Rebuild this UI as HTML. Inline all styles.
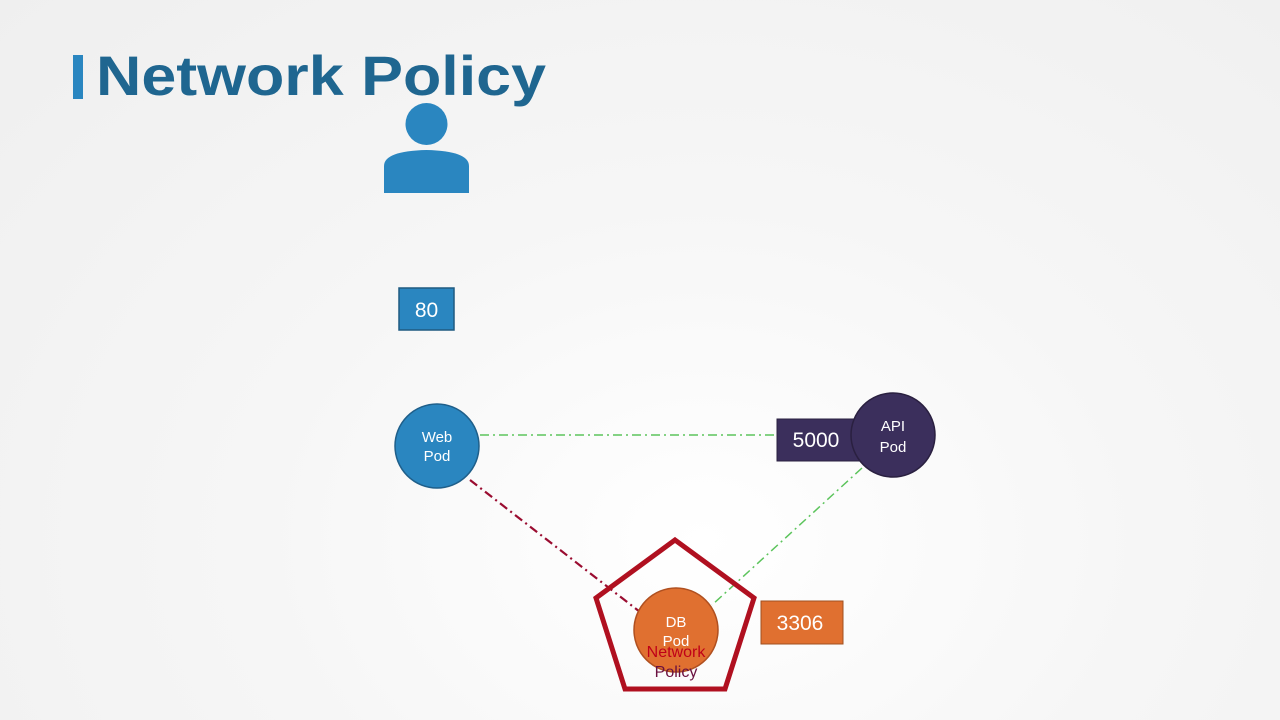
<!DOCTYPE html>
<html><head><style>
html,body{margin:0;padding:0;width:1280px;height:720px;overflow:hidden;}
body{background:radial-gradient(ellipse at 55% 75%, #ffffff 0%, #f6f6f6 45%, #efefef 100%);font-family:"Liberation Sans",sans-serif;}
</style></head><body>
<svg width="1280" height="720" xmlns="http://www.w3.org/2000/svg" style="position:absolute;left:0;top:0">
<rect x="73" y="55" width="10" height="44" fill="#2a86c0"/>
<text x="96" y="95" font-family="Liberation Sans, sans-serif" font-size="56" font-weight="bold" fill="#1f6690" textLength="450" lengthAdjust="spacingAndGlyphs">Network Policy</text>
<!-- person -->
<circle cx="426.5" cy="124" r="21" fill="#2a86c0"/>
<path d="M384 193 L384 166 Q384 151 426.5 150 Q469 151 469 166 L469 193 Z" fill="#2a86c0"/>
<!-- 80 -->
<rect x="399" y="288" width="55" height="42" fill="#2a86c0" stroke="#1f5a80" stroke-width="1.5"/>
<text x="426.5" y="317" text-anchor="middle" font-size="21" fill="#fff">80</text>
<!-- lines -->
<line x1="480" y1="435" x2="777" y2="435" stroke="#5cc45c" stroke-width="1.5" stroke-dasharray="9,4,2,4"/>
<line x1="862" y1="468" x2="712" y2="605" stroke="#5cc45c" stroke-width="1.5" stroke-dasharray="9,4,2,4"/>
<line x1="470" y1="480" x2="640" y2="612" stroke="#9a0c30" stroke-width="2.2" stroke-dasharray="9,4,2,4"/>
<!-- web pod -->
<circle cx="437" cy="446" r="42" fill="#2a86c0" stroke="#1f5f8a" stroke-width="1.5"/>
<text x="437" y="442" text-anchor="middle" font-size="15" fill="#fff">Web</text>
<text x="437" y="461" text-anchor="middle" font-size="15" fill="#fff">Pod</text>
<!-- api -->
<rect x="777" y="419" width="85" height="42" fill="#3b2f5c" stroke="#2a2040" stroke-width="1"/>
<text x="816" y="447" text-anchor="middle" font-size="21" fill="#fff">5000</text>
<circle cx="893" cy="435" r="42" fill="#3b2f5c" stroke="#2a2040" stroke-width="1.5"/>
<text x="893" y="431" text-anchor="middle" font-size="15" fill="#fff">API</text>
<text x="893" y="452" text-anchor="middle" font-size="15" fill="#fff">Pod</text>
<!-- pentagon -->
<polygon points="675,540 754,598 725,689 625,689 596,598" fill="none" stroke="#b01020" stroke-width="5" stroke-linejoin="miter"/>
<circle cx="676" cy="630" r="42" fill="#e07030" stroke="#b05020" stroke-width="1.5"/>
<text x="676" y="627" text-anchor="middle" font-size="15" fill="#fff">DB</text>
<text x="676" y="646" text-anchor="middle" font-size="15" fill="#fff">Pod</text>
<text x="676" y="657" text-anchor="middle" font-size="16" fill="#c00018">Network</text>
<text x="676" y="677" text-anchor="middle" font-size="16" fill="#6a1040">Policy</text>
<rect x="761" y="601" width="82" height="43" fill="#e07030" stroke="#a05020" stroke-width="1"/>
<text x="800" y="630" text-anchor="middle" font-size="21" fill="#fff">3306</text>
</svg>
</body></html>
